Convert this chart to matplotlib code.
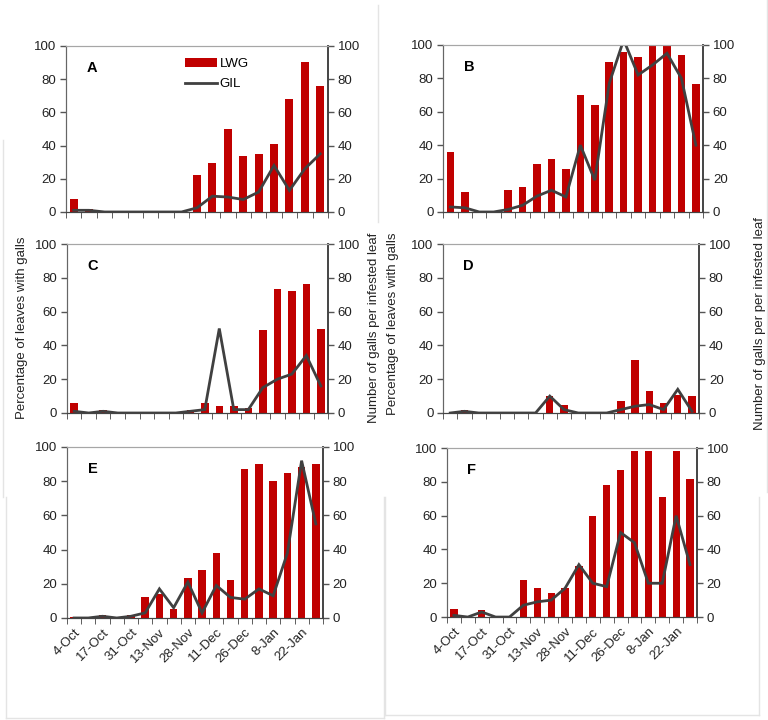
import matplotlib.pyplot as plt
import numpy as np
from matplotlib.lines import Line2D

plt.rcParams["font.family"] = ["Liberation Sans", "DejaVu Sans"]

# sampling dates (labels shown every second date on the bottom panels)
dates = ["4-Oct", "10-Oct", "17-Oct", "24-Oct", "31-Oct", "6-Nov", "13-Nov",
         "20-Nov", "28-Nov", "4-Dec", "11-Dec", "18-Dec", "26-Dec", "1-Jan",
         "8-Jan", "15-Jan", "22-Jan", "29-Jan"]

# LWG = percentage of leaves with galls, GIL = galls per infested leaf
lwg_a = [8, 2, 0, 0, 0, 0, 0, 0, 22, 29.5, 50, 34, 35, 41, 68, 90.5, 76]
gil_a = [1, 1, 0, 0, 0, 0, 0, 0, 2.5, 9.5, 9, 7.5, 12, 28, 13, 26, 35]
lwg_b = [36, 12, 0, 0, 13, 15, 29, 32, 26, 70, 64, 90, 96, 92.5, 100, 100, 94, 76.5]
gil_b = [3, 2.5, 0, 0, 1.5, 4, 9.5, 13, 9, 40, 19, 77, 103, 82, 88, 95, 80, 40]
lwg_c = [6, 0, 1.5, 0, 0, 0, 0, 0, 1.5, 6, 4, 4, 3, 49, 73.5, 72, 76.5, 50]
gil_c = [1, 0, 1, 0, 0, 0, 0, 0, 1, 2, 50, 2, 2, 15, 20, 23, 34, 16]
lwg_d = [0, 2, 0, 0, 0, 0, 0, 10, 5, 0, 0, 0, 7, 31.5, 13, 6, 10.5, 10]
gil_d = [0, 1, 0, 0, 0, 0, 0, 10, 2, 0, 0, 0, 2, 4, 5, 2, 14, 1]
lwg_e = [0.3, 0.3, 1.5, 0.3, 1.5, 12, 14, 5.5, 23.5, 28, 38, 22, 87, 90, 80, 85, 88, 90]
gil_e = [0, 0, 1, 0, 1, 3, 17, 6, 21, 3, 19, 12, 11, 17, 13, 38, 92, 55]
lwg_f = [5, 0, 4, 0, 0, 22, 17, 14, 17, 30, 60, 78, 87, 98, 98, 71, 98.5, 81.5]
gil_f = [1, 0, 3, 0, 0, 7, 9, 10, 17, 31, 20, 18, 50, 44, 20, 20, 60, 31]

left_label = "Percentage of leaves with galls"
right_label_c = "Number of galls per infested leaf"
right_label_d = "Number of galls per per infested leaf"

BAR = "#C00000"
LINE = "#404040"
TXT = "#222222"

fig = plt.figure(figsize=(7.68, 7.2), dpi=100)

# faint borders of the pasted chart images (pixel coords, origin top-left)
frames = [
    ((6, 6), (497, 718)), ((6, 384), (718, 718)), ((384, 384), (497, 718)),
    ((385, 385), (497, 715)), ((385, 759), (715, 715)), ((759, 759), (497, 715)),
    ((3, 3), (140, 497)), ((378, 378), (5, 222)), ((767, 767), (0, 492)),
]
for xs, ys in frames:
    fig.add_artist(Line2D([x / 768 for x in xs], [1 - y / 720 for y in ys],
                          transform=fig.transFigure, color="#e4e4e4", lw=1))


def draw_panel(rect, lwg, gil, letter, show_dates=False, legend=False):
    ax = fig.add_axes(rect)
    n = len(lwg)
    x = np.arange(n)
    ax.bar(x, lwg, width=0.52, color=BAR, label="LWG", zorder=2)
    ax2 = ax.twinx()
    ax2.plot(x, gil, color=LINE, lw=2, label="GIL", solid_joinstyle="miter")

    for a in (ax, ax2):
        a.set_xlim(-0.5, n - 0.5)
        a.set_ylim(0, 100)
        a.set_yticks(range(0, 101, 20))
        a.tick_params(axis="y", direction="out", length=4, width=1,
                      color="#555555", labelsize=9.5, labelcolor=TXT, pad=3)
        a.spines["top"].set_color("#a6a6a6")
        a.spines["left"].set_color("#666666")
        a.spines["right"].set_color("#444444")
        a.spines["bottom"].set_color("#444444")
        a.spines["right"].set_linewidth(1.2)

    # ticks between categories, labels every second date
    ax.set_xticks(np.arange(n + 1) - 0.5, minor=True)
    ax.tick_params(axis="x", which="minor", direction="out", length=4,
                   color="#444444")
    ax.set_xticks(x[::2])
    if show_dates:
        ax.set_xticklabels(dates[:n:2], rotation=45, ha="right",
                           rotation_mode="anchor", fontsize=9.5, color=TXT)
    else:
        ax.set_xticklabels([])
    ax.tick_params(axis="x", which="major", length=0, pad=6)

    ax.text(0.1, 0.87, letter, transform=ax.transAxes, fontsize=10.5,
            fontweight="bold", ha="center", va="center", color="black")

    if legend:
        h1, l1 = ax.get_legend_handles_labels()
        h2, l2 = ax2.get_legend_handles_labels()
        ax2.legend(h1 + h2, l1 + l2, loc="upper left",
                   bbox_to_anchor=(0.41, 1.0), frameon=False, fontsize=9.5,
                   handlelength=2.4, handletextpad=0.2, labelspacing=0.6)
    return ax, ax2


draw_panel([0.086, 0.7056, 0.341, 0.2306], lwg_a, gil_a, "A", legend=True)
draw_panel([0.577, 0.7056, 0.3385, 0.232], lwg_b, gil_b, "B")
draw_panel([0.0872, 0.4264, 0.34, 0.2347], lwg_c, gil_c, "C")
draw_panel([0.577, 0.4264, 0.3333, 0.2347], lwg_d, gil_d, "D")
draw_panel([0.0872, 0.1417, 0.3333, 0.2375], lwg_e, gil_e, "E", show_dates=True)
draw_panel([0.582, 0.143, 0.3255, 0.2347], lwg_f, gil_f, "F", show_dates=True)

fig.text(0.029, 0.545, left_label, rotation=90, ha="center", va="center",
         fontsize=9.5, color=TXT)
fig.text(0.487, 0.545, right_label_c, rotation=90, ha="center", va="center",
         fontsize=9.5, color=TXT)
fig.text(0.512, 0.55, left_label, rotation=90, ha="center", va="center",
         fontsize=9.5, color=TXT)
fig.text(0.99, 0.55, right_label_d, rotation=90, ha="center", va="center",
         fontsize=9.5, color=TXT)

fig.savefig("out.png", dpi=100)
